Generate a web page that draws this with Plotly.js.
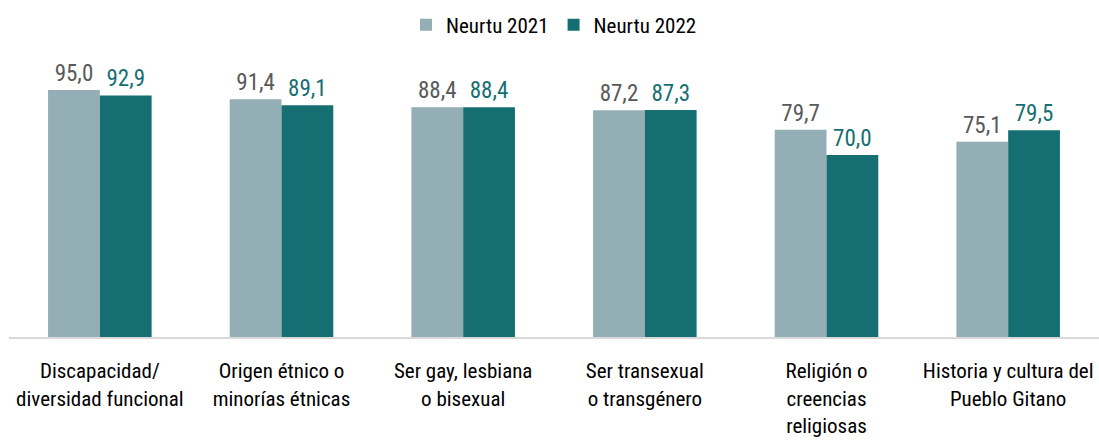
<!DOCTYPE html>
<html><head><meta charset="utf-8">
<script src="https://cdn.plot.ly/plotly-3.0.1.min.js"></script>
<style>body{margin:0;background:#fff}#chart{width:1099px;height:441px}</style>
</head><body><div id="chart"></div>
<script>
const categories = ["Discapacidad/<br>diversidad funcional","Origen étnico o<br>minorías étnicas","Ser gay, lesbiana<br>o bisexual","Ser transexual<br>o transgénero","Religión o<br>creencias<br>religiosas","Historia y cultura del<br>Pueblo Gitano"];
const values2021 = [95.0, 91.4, 88.4, 87.2, 79.7, 75.1];
const values2022 = [92.9, 89.1, 88.4, 87.3, 70.0, 79.5];
const series = ["Neurtu 2021","Neurtu 2022"];
const FONT = "'Liberation Sans Narrow','Roboto Condensed','DejaVu Sans Condensed',sans-serif";
const traces = [
  {type:'bar', name:series[0], x:categories, y:values2021, marker:{color:'#93AEB5'},
   texttemplate:'%{y:.1f}', textposition:'outside', cliponaxis:false,
   textfont:{family:FONT,size:23,color:'#595959'}, hoverinfo:'none'},
  {type:'bar', name:series[1], x:categories, y:values2022, marker:{color:'#156F72'},
   texttemplate:'%{y:.1f}', textposition:'outside', cliponaxis:false,
   textfont:{family:FONT,size:23,color:'#156F72'}, hoverinfo:'none'}
];
const layout = {
  width:1099, height:441, separators:',.',
  margin:{l:9,r:0,t:77,b:104,autoexpand:false},
  barmode:'group', bargap:0.43, bargroupgap:0,
  font:{family:FONT,size:21,color:'#000'},
  paper_bgcolor:'#fff', plot_bgcolor:'#fff',
  showlegend:true,
  legend:{orientation:'h', x:0.5, xanchor:'center', y:1.2, yanchor:'middle',
          font:{family:FONT,size:21,color:'#000'}, itemwidth:30, traceorder:'normal'},
  xaxis:{showline:true, linecolor:'#D9D9D9', linewidth:2, ticks:'', ticklabelstandoff:14,
         tickfont:{family:FONT,size:21,color:'#000'}, automargin:false},
  yaxis:{range:[0,100], visible:false, showgrid:false, zeroline:false}
};
Plotly.newPlot('chart', traces, layout, {displayModeBar:false, staticPlot:true});
</script></body></html>
